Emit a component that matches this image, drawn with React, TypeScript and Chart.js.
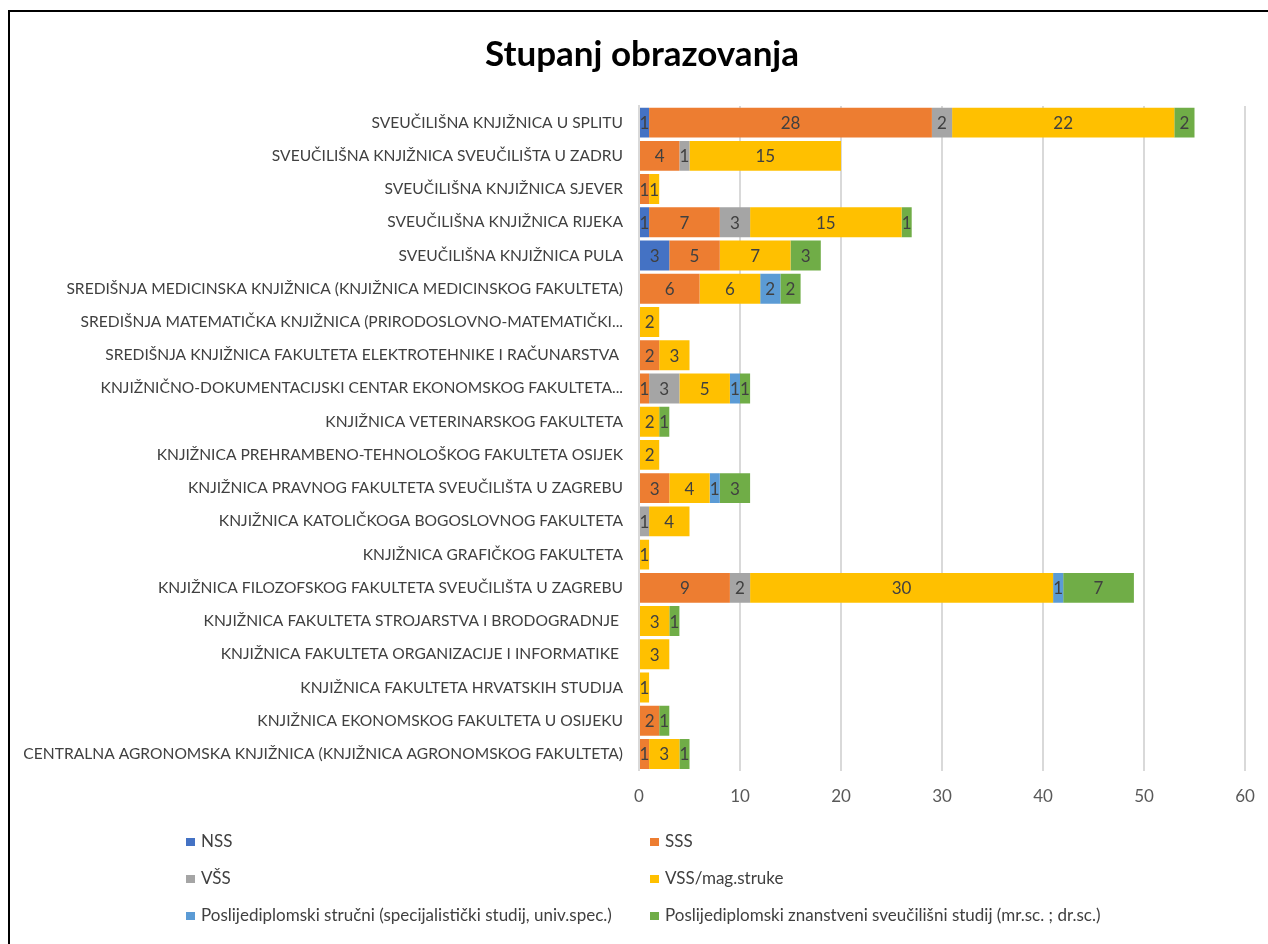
import { useEffect, useRef } from "react";
import { Chart, registerables } from "chart.js";

Chart.register(...registerables);

const FONT = "Lato, 'Open Sans', sans-serif";

const chartTitle = "Stupanj obrazovanja";

const categories = [
  "SVEUČILIŠNA KNJIŽNICA U SPLITU",
  "SVEUČILIŠNA KNJIŽNICA SVEUČILIŠTA U ZADRU",
  "SVEUČILIŠNA KNJIŽNICA SJEVER",
  "SVEUČILIŠNA KNJIŽNICA RIJEKA",
  "SVEUČILIŠNA KNJIŽNICA PULA",
  "SREDIŠNJA MEDICINSKA KNJIŽNICA (KNJIŽNICA MEDICINSKOG FAKULTETA)",
  "SREDIŠNJA MATEMATIČKA KNJIŽNICA (PRIRODOSLOVNO-MATEMATIČKI...",
  "SREDIŠNJA KNJIŽNICA FAKULTETA ELEKTROTEHNIKE I RAČUNARSTVA ",
  "KNJIŽNIČNO-DOKUMENTACIJSKI CENTAR EKONOMSKOG FAKULTETA...",
  "KNJIŽNICA VETERINARSKOG FAKULTETA",
  "KNJIŽNICA PREHRAMBENO-TEHNOLOŠKOG FAKULTETA OSIJEK",
  "KNJIŽNICA PRAVNOG FAKULTETA SVEUČILIŠTA U ZAGREBU",
  "KNJIŽNICA KATOLIČKOGA BOGOSLOVNOG FAKULTETA",
  "KNJIŽNICA GRAFIČKOG FAKULTETA",
  "KNJIŽNICA FILOZOFSKOG FAKULTETA SVEUČILIŠTA U ZAGREBU",
  "KNJIŽNICA FAKULTETA STROJARSTVA I BRODOGRADNJE ",
  "KNJIŽNICA FAKULTETA ORGANIZACIJE I INFORMATIKE ",
  "KNJIŽNICA FAKULTETA HRVATSKIH STUDIJA",
  "KNJIŽNICA EKONOMSKOG FAKULTETA U OSIJEKU",
  "CENTRALNA AGRONOMSKA KNJIŽNICA (KNJIŽNICA AGRONOMSKOG FAKULTETA)",
];

const seriesNames = [
  "NSS",
  "SSS",
  "VŠS",
  "VSS/mag.struke",
  "Poslijediplomski stručni (specijalistički studij, univ.spec.)",
  "Poslijediplomski znanstveni sveučilišni studij (mr.sc. ; dr.sc.)",
];

const seriesColors = ["#4472C4", "#ED7D31", "#A5A5A5", "#FFC000", "#5B9BD5", "#70AD47"];

const nss = [1, 0, 0, 1, 3, 0, 0, 0, 0, 0, 0, 0, 0, 0, 0, 0, 0, 0, 0, 0];
const sss = [28, 4, 1, 7, 5, 6, 0, 2, 1, 0, 0, 3, 0, 0, 9, 0, 0, 0, 2, 1];
const vssViša = [2, 1, 0, 3, 0, 0, 0, 0, 3, 0, 0, 0, 1, 0, 2, 0, 0, 0, 0, 0];
const vssMag = [22, 15, 1, 15, 7, 6, 2, 3, 5, 2, 2, 4, 4, 1, 30, 3, 3, 1, 0, 3];
const postStrucni = [0, 0, 0, 0, 0, 2, 0, 0, 1, 0, 0, 1, 0, 0, 1, 0, 0, 0, 0, 0];
const postZnanstveni = [2, 0, 0, 1, 3, 2, 0, 0, 1, 1, 0, 3, 0, 0, 7, 1, 0, 0, 1, 1];

const seriesValues = [nss, sss, vssViša, vssMag, postStrucni, postZnanstveni];

const xTicks = [0, 10, 20, 30, 40, 50, 60];

const titlePlugin = {
  id: "customTitle",
  afterDraw(chart: any) {
    const ctx = chart.ctx;
    ctx.save();
    ctx.font = `bold 35px ${FONT}`;
    ctx.fillStyle = "#000000";
    ctx.textAlign = "center";
    ctx.textBaseline = "middle";
    ctx.fillText(chartTitle, 634, 47);
    ctx.restore();
  },
};

const valueLabelPlugin = {
  id: "valueLabels",
  afterDatasetsDraw(chart: any) {
    const ctx = chart.ctx;
    ctx.save();
    ctx.font = `17px ${FONT}`;
    ctx.fillStyle = "#404040";
    ctx.textAlign = "center";
    ctx.textBaseline = "middle";
    chart.data.datasets.forEach((ds: any, i: number) => {
      const meta = chart.getDatasetMeta(i);
      meta.data.forEach((el: any, j: number) => {
        const v = ds.data[j];
        if (!v) return;
        const p = el.getCenterPoint();
        ctx.fillText(String(v), p.x, p.y + 1);
      });
    });
    ctx.restore();
  },
};

const gridLegendPlugin = {
  id: "gridLegend",
  afterDraw(chart: any) {
    const ctx = chart.ctx;
    const colX = [178, 642];
    const rowY = [834, 871, 908];
    ctx.save();
    ctx.font = `17px ${FONT}`;
    ctx.textAlign = "left";
    ctx.textBaseline = "middle";
    chart.data.datasets.forEach((ds: any, i: number) => {
      const x = colX[i % 2];
      const y = rowY[Math.floor(i / 2)];
      ctx.fillStyle = ds.backgroundColor;
      ctx.fillRect(x, y - 4, 9, 8);
      ctx.fillStyle = "#404040";
      ctx.fillText(ds.label, x + 15, y);
    });
    ctx.restore();
  },
};

export default function App() {
  const ref = useRef<HTMLCanvasElement | null>(null);

  useEffect(() => {
    if (!ref.current) return;
    const chart = new Chart(ref.current, {
      type: "bar",
      data: {
        labels: categories,
        datasets: seriesNames.map((name, i) => ({
          label: name,
          data: seriesValues[i],
          backgroundColor: seriesColors[i],
          borderWidth: 0,
          barPercentage: 0.9,
          categoryPercentage: 1.0,
        })),
      },
      options: {
        indexAxis: "y",
        responsive: false,
        animation: false,
        layout: { padding: { left: 0, right: 0, top: 98, bottom: 113 } },
        plugins: {
          legend: { display: false },
          tooltip: { enabled: false },
          title: { display: false },
        },
        scales: {
          x: {
            stacked: true,
            min: 0,
            max: 60,
            afterBuildTicks: (scale: any) => {
              scale.ticks = xTicks.map((v) => ({ value: v }));
            },
            afterFit: (scale: any) => {
              scale.paddingRight = 15;
            },
            ticks: { color: "#595959", font: { family: FONT, size: 17 }, padding: 16 },
            grid: { color: "#D9D9D9", lineWidth: 2, drawTicks: false },
            border: { display: false },
          },
          y: {
            stacked: true,
            afterFit: (scale: any) => {
              scale.width = 631;
            },
            ticks: {
              autoSkip: false,
              color: "#404040",
              font: { family: FONT, size: 15.6 },
              padding: 16,
            },
            grid: { display: false, drawTicks: false },
            border: { display: true, color: "#D9D9D9", width: 2 },
          },
        },
      },
      plugins: [valueLabelPlugin, gridLegendPlugin, titlePlugin],
    } as any);
    return () => chart.destroy();
  }, []);

  return (
    <div style={{ position: "relative", width: 1252, height: 928 }}>
      <div
        style={{
          position: "fixed",
          top: 10,
          left: 8,
          width: 1400,
          height: 1100,
          borderTop: "2px solid #000",
          borderLeft: "2px solid #000",
          boxSizing: "border-box",
          pointerEvents: "none",
        }}
      />
      <canvas
        ref={ref}
        width={1252}
        height={928}
        style={{ position: "absolute", top: 0, left: 0, width: 1252, height: 928 }}
      />
    </div>
  );
}
